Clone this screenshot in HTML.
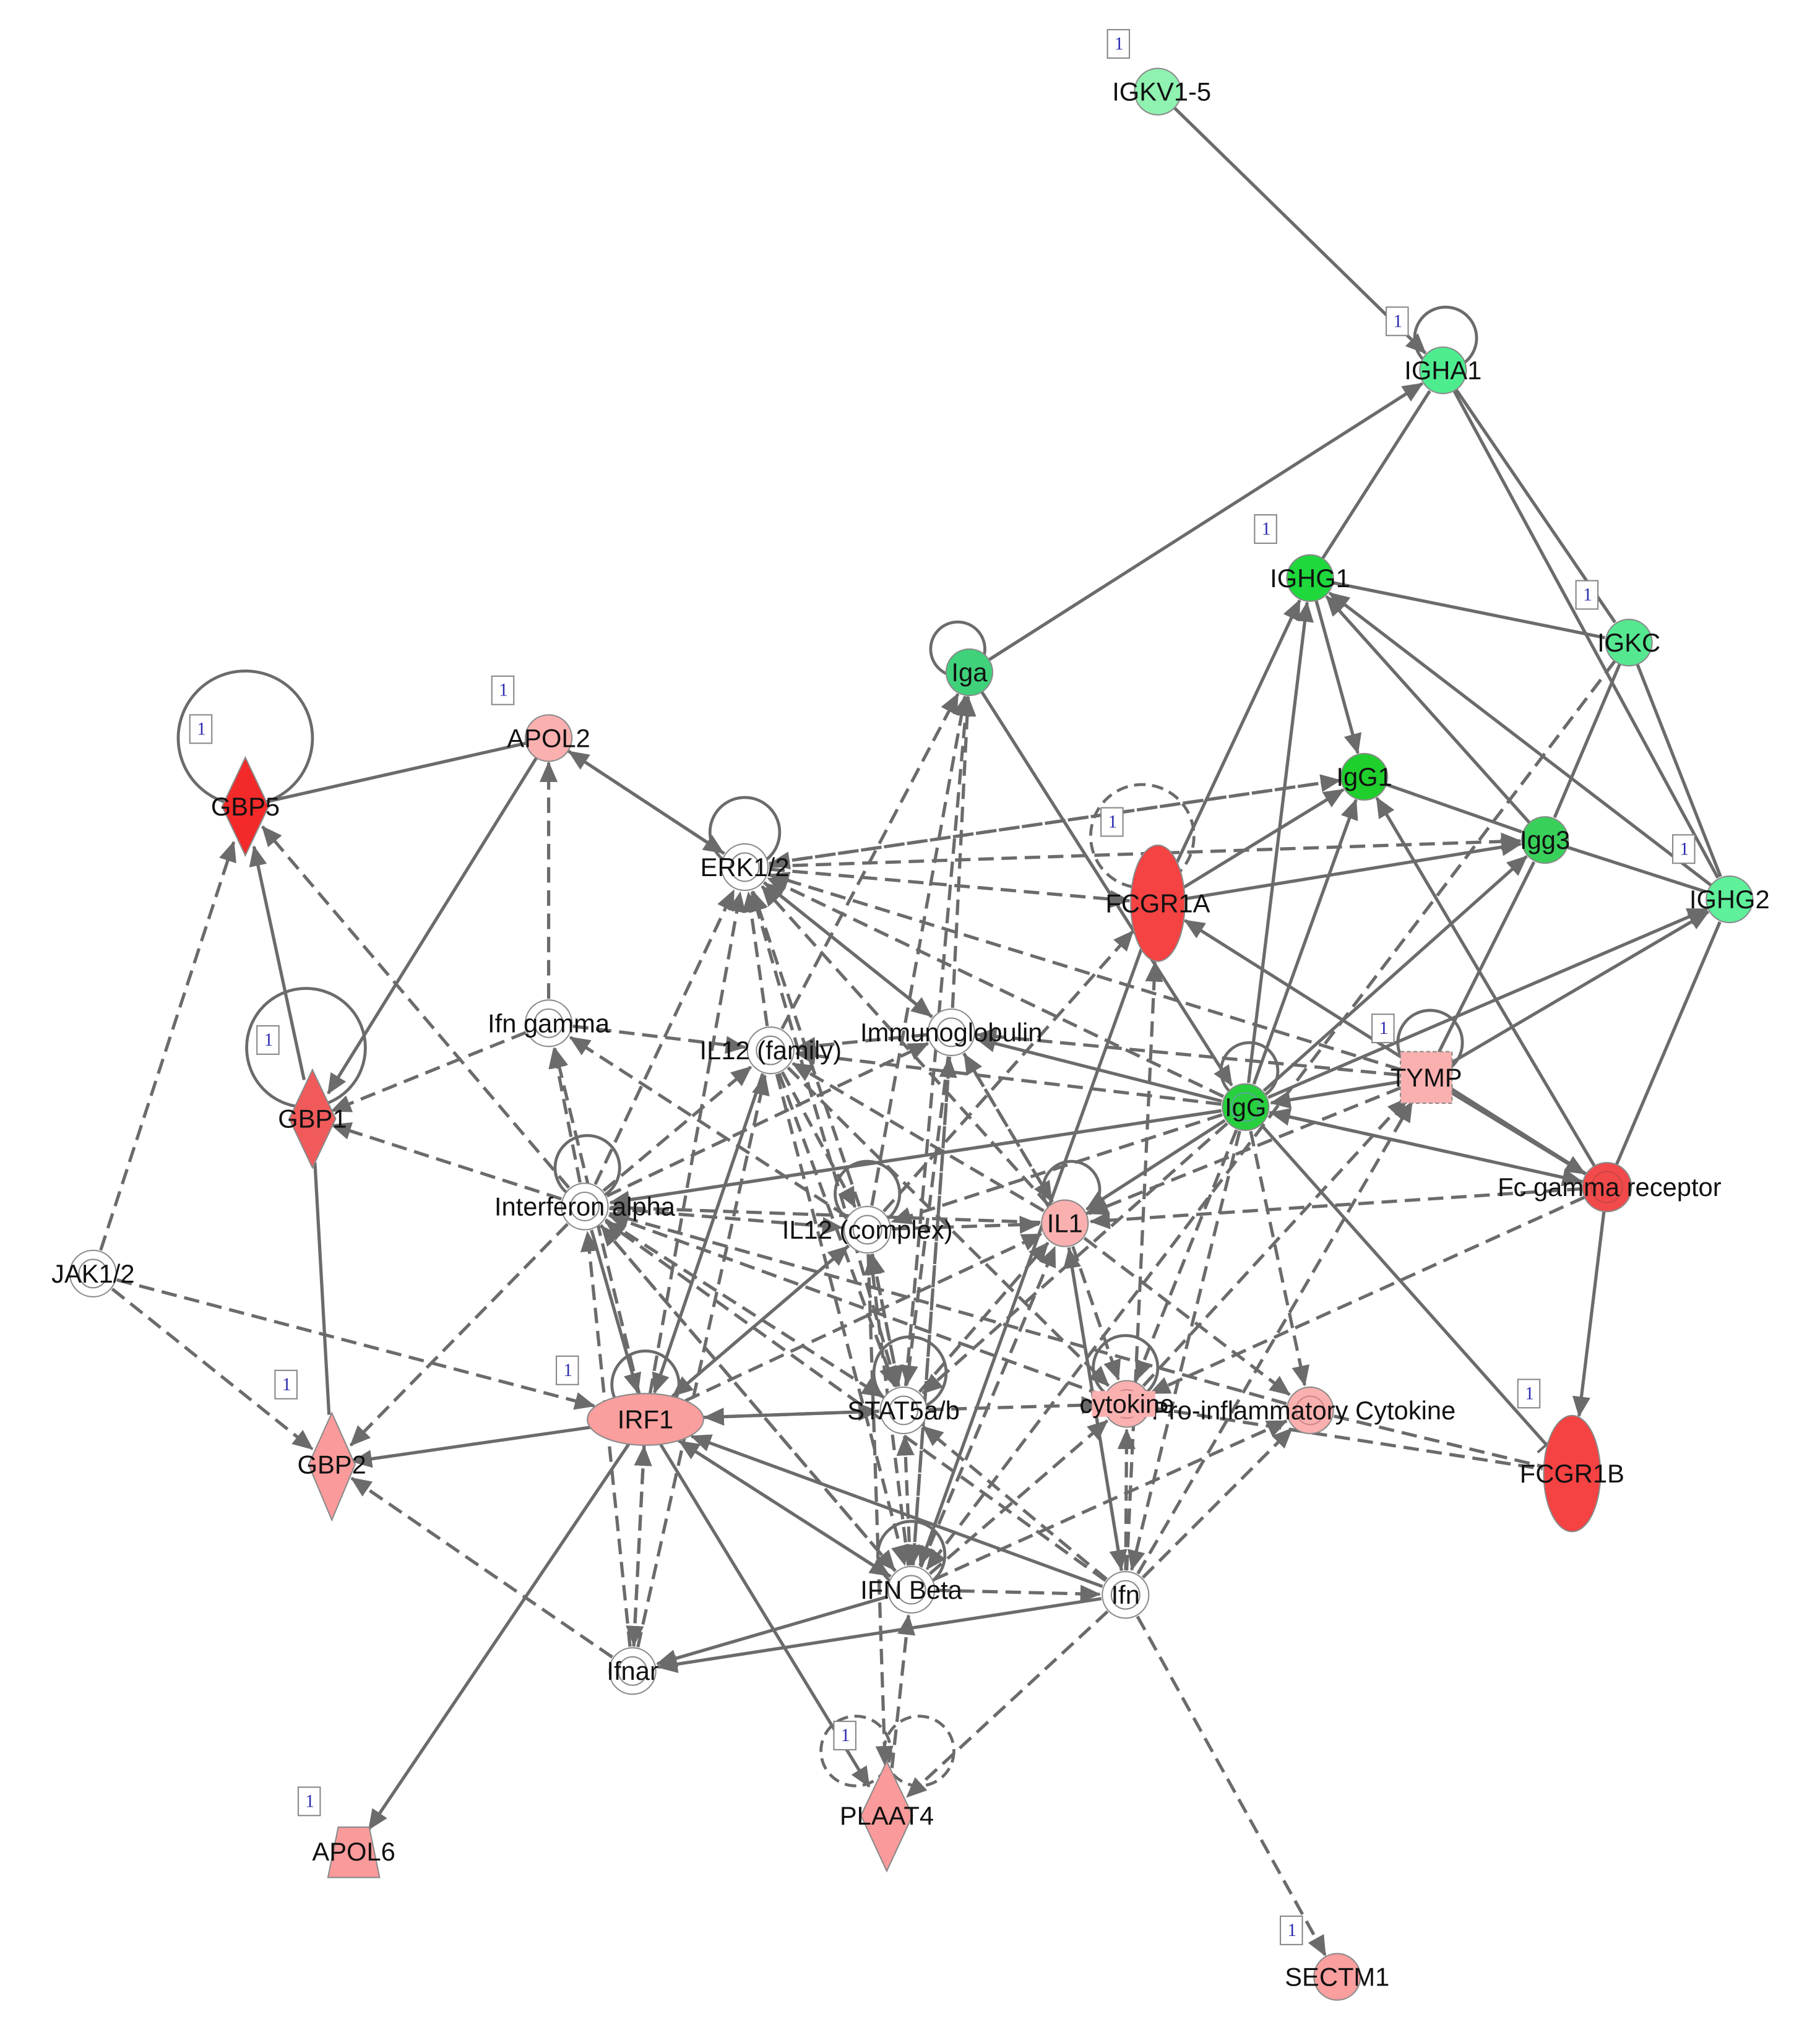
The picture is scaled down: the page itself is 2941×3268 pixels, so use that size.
<!DOCTYPE html>
<html><head><meta charset="utf-8"><style>
html,body{margin:0;padding:0;background:#fff;}
svg{display:block;}
text{font-family:"Liberation Sans",Arial,sans-serif;}
.lb{font-size:20px;fill:#111;text-anchor:middle;dominant-baseline:central;}
.bd{font-family:"Liberation Serif",serif;font-size:14px;fill:#2a2ab0;text-anchor:middle;dominant-baseline:central;}
</style></head><body>
<svg id="s" width="2941" height="3268" viewBox="0 0 1410 1567" xmlns="http://www.w3.org/2000/svg">
<defs>
<marker id="ar" markerUnits="userSpaceOnUse" markerWidth="16" markerHeight="14" refX="15" refY="7" orient="auto"><path d="M0,0 L16,7 L0,14 Z" fill="#6b6b6b"/></marker>
<marker id="tb" markerUnits="userSpaceOnUse" markerWidth="4" markerHeight="18" refX="2" refY="9" orient="auto"><path d="M2,0 L2,18" stroke="#6b6b6b" stroke-width="2"/></marker>
</defs>
<g id="loops" fill="none" stroke="#6b6b6b" stroke-width="2.3"></g>
<g id="edges" fill="none" stroke="#6b6b6b" stroke-width="2.5"></g>
<g id="nodes" stroke="#8a8a8a" stroke-width="1">
<circle cx="897" cy="71" r="18" fill="#8ff2b0"/>
<circle cx="1118" cy="287" r="18" fill="#4ded8f"/>
<circle cx="1015" cy="448" r="18" fill="#1ed83c"/>
<circle cx="1262" cy="498" r="18" fill="#55e890"/>
<circle cx="751" cy="521" r="18" fill="#3fd27a"/>
<circle cx="1057" cy="602" r="18" fill="#1fcf2c"/>
<circle cx="1197" cy="651" r="18" fill="#39d05a"/>
<circle cx="1340" cy="697" r="18" fill="#5ef09a"/>
<circle cx="965" cy="858" r="18" fill="#28cf3e"/>
<circle cx="965" cy="858" r="11" fill="none" stroke="#5a9"/>
<ellipse cx="897" cy="700" rx="21" ry="45" fill="#f54242"/>
<ellipse cx="1218" cy="1142" rx="22" ry="45" fill="#f54242"/>
<circle cx="1245" cy="920" r="19" fill="#f24a4a"/>
<circle cx="1245" cy="920" r="12" fill="none" stroke="#c44"/>
<path d="M190,587 L208,625 L190,663 L172,625Z" fill="#f42a2a"/>
<path d="M242,829 L260,867 L242,905 L224,867Z" fill="#f05a5a"/>
<path d="M257,1095 L275,1135 L257,1178 L239,1135Z" fill="#fb9a9a"/>
<path d="M687,1365 L707,1407 L687,1450 L667,1407Z" fill="#fb9a9a"/>
<path d="M262,1416 L286,1416 L294,1455 L254,1455Z" fill="#fb9a9a"/>
<circle cx="425" cy="572" r="18" fill="#fbb0b0"/>
<ellipse cx="500" cy="1100" rx="45" ry="20" fill="#fa9e9e"/>
<rect x="1085" y="815" width="40" height="40" fill="#fbb0b0" stroke-dasharray="3,2"/>
<circle cx="825" cy="948" r="18" fill="#fbb0b0"/>
<circle cx="873" cy="1088" r="18" fill="#fbb0b0"/><circle cx="873" cy="1088" r="11" fill="none" stroke="#c88"/>
<circle cx="1015" cy="1093" r="18" fill="#fbb0b0"/><circle cx="1015" cy="1093" r="11" fill="none" stroke="#c88"/>
<circle cx="1036" cy="1532" r="18" fill="#fa9e9e"/>
<g fill="#fff">
<circle cx="577" cy="672" r="18"/><circle cx="577" cy="672" r="11"/>
<circle cx="425" cy="793" r="18"/><circle cx="425" cy="793" r="11"/>
<circle cx="597" cy="814" r="18"/><circle cx="597" cy="814" r="11"/>
<circle cx="737" cy="800" r="18"/><circle cx="737" cy="800" r="11"/>
<circle cx="453" cy="935" r="18"/><circle cx="453" cy="935" r="11"/>
<circle cx="672" cy="953" r="18"/><circle cx="672" cy="953" r="11"/>
<circle cx="72" cy="987" r="18"/><circle cx="72" cy="987" r="11"/>
<circle cx="700" cy="1093" r="18"/><circle cx="700" cy="1093" r="11"/>
<circle cx="706" cy="1232" r="18"/><circle cx="706" cy="1232" r="11"/>
<circle cx="872" cy="1236" r="18"/><circle cx="872" cy="1236" r="11"/>
<circle cx="490" cy="1295" r="18"/><circle cx="490" cy="1295" r="11"/>
</g>
</g>
<g id="labels">
<text class="lb" x="900" y="71">IGKV1-5</text>
<text class="lb" x="1118" y="287">IGHA1</text>
<text class="lb" x="1015" y="448">IGHG1</text>
<text class="lb" x="1262" y="498">IGKC</text>
<text class="lb" x="751" y="521">Iga</text>
<text class="lb" x="1057" y="602">IgG1</text>
<text class="lb" x="1197" y="651">Igg3</text>
<text class="lb" x="1340" y="697">IGHG2</text>
<text class="lb" x="897" y="700">FCGR1A</text>
<text class="lb" x="425" y="572">APOL2</text>
<text class="lb" x="190" y="625">GBP5</text>
<text class="lb" x="577" y="672">ERK1/2</text>
<text class="lb" x="425" y="793">Ifn gamma</text>
<text class="lb" x="597" y="814">IL12 (family)</text>
<text class="lb" x="737" y="800">Immunoglobulin</text>
<text class="lb" x="965" y="858">IgG</text>
<text class="lb" x="1105" y="835">TYMP</text>
<text class="lb" x="242" y="867">GBP1</text>
<text class="lb" x="453" y="935">Interferon alpha</text>
<text class="lb" x="672" y="953">IL12 (complex)</text>
<text class="lb" x="825" y="948">IL1</text>
<text class="lb" x="1247" y="920">Fc gamma receptor</text>
<text class="lb" x="72" y="987">JAK1/2</text>
<text class="lb" x="500" y="1100">IRF1</text>
<text class="lb" x="700" y="1093">STAT5a/b</text>
<text class="lb" x="1010" y="1093">Pro-inflammatory Cytokine</text>
<rect x="846" y="1078" width="49" height="20" fill="#fbb0b0"/>
<text class="lb" x="873" y="1088">cytokine</text>
<text class="lb" x="1218" y="1142">FCGR1B</text>
<text class="lb" x="257" y="1135">GBP2</text>
<text class="lb" x="706" y="1232">IFN Beta</text>
<text class="lb" x="872" y="1236">Ifn</text>
<text class="lb" x="490" y="1295">Ifnar</text>
<text class="lb" x="687" y="1407">PLAAT4</text>
<text class="lb" x="274" y="1435">APOL6</text>
<text class="lb" x="1036" y="1532">SECTM1</text>
</g>
<g id="badges" fill="#fff" stroke="#888" stroke-width="1">
<rect x="858" y="23" width="17" height="22"/><rect x="1074" y="238" width="17" height="22"/>
<rect x="972" y="399" width="17" height="22"/><rect x="1221" y="450" width="17" height="22"/>
<rect x="381" y="524" width="17" height="22"/><rect x="147" y="554" width="17" height="22"/>
<rect x="853" y="626" width="17" height="22"/><rect x="1296" y="647" width="17" height="22"/>
<rect x="199" y="795" width="17" height="22"/><rect x="1063" y="786" width="17" height="22"/>
<rect x="431" y="1051" width="17" height="22"/><rect x="213" y="1062" width="17" height="22"/>
<rect x="1176" y="1069" width="17" height="22"/><rect x="646" y="1334" width="17" height="22"/>
<rect x="231" y="1385" width="17" height="22"/><rect x="992" y="1485" width="17" height="22"/>
</g>
<g>
<text class="bd" x="867" y="34">1</text><text class="bd" x="1083" y="249">1</text>
<text class="bd" x="981" y="410">1</text><text class="bd" x="1230" y="461">1</text>
<text class="bd" x="390" y="535">1</text><text class="bd" x="156" y="565">1</text>
<text class="bd" x="862" y="637">1</text><text class="bd" x="1305" y="658">1</text>
<text class="bd" x="208" y="806">1</text><text class="bd" x="1072" y="797">1</text>
<text class="bd" x="440" y="1062">1</text><text class="bd" x="222" y="1073">1</text>
<text class="bd" x="1185" y="1080">1</text><text class="bd" x="655" y="1345">1</text>
<text class="bd" x="240" y="1396">1</text><text class="bd" x="1001" y="1496">1</text>
</g>
</svg>
<script>
var N={kv:[897,71,18,18],ha:[1118,287,18,18],g1:[1015,448,18,18],kc:[1262,498,18,18],iga:[751,521,18,18],igg1:[1057,602,18,18],igg3:[1197,651,18,18],g2:[1340,697,18,18],f1a:[897,700,21,45],apol2:[425,572,18,18],gbp5:[190,625,14,34],erk:[577,672,19,19],ifng:[425,793,19,19],il12f:[597,814,19,19],ig:[737,800,19,19],igg:[965,858,19,19],tymp:[1105,835,21,21],gbp1:[242,867,14,34],ifna:[453,935,19,19],il12c:[672,953,19,19],il1:[825,948,19,19],fcg:[1245,920,19,19],jak:[72,987,19,19],irf1:[500,1100,45,20],stat:[700,1093,19,19],cyt:[873,1088,19,19],pic:[1015,1093,19,19],f1b:[1218,1142,22,45],gbp2:[257,1135,15,38],ifnb:[706,1232,19,19],ifn:[872,1236,19,19],ifnar:[490,1295,19,19],plaat:[687,1407,16,38],apol6:[274,1435,20,20],sectm:[1036,1532,18,18]};
var S="kv>ha iga>ha g1-ha ha-kc ha-g2 g1-kc g1>igg1 g2>g1 igg>g1 f1a>g1 igg3>g1 igg>igg1 igg>igg3 igg>g2 igg1-igg3 igg3-g2 kc-g2 kc-igg3 f1a>igg3 f1a>igg1 tymp>g2 tymp-igg3 fcg>igg1 fcg-g2 fcg>f1b fcg>f1a igg>fcg tymp>fcg igg|f1b igg>ifna igg>il1 iga>igg apol2-gbp5 apol2>gbp1 gbp1>gbp5 gbp1-gbp2 irf1>gbp2 irf1>apol6 irf1>plaat irf1>ifnb ifn>irf1 stat>irf1 ifnb>ifnar ifn>ifnar il12f>irf1 ifna>irf1 il12c>irf1 igg>ig f1a>ifnb tymp>igg";
var D="jak>gbp5 jak>gbp2 jak>irf1 erk>apol2 apol2>erk ifna>gbp5 ifng>gbp1 ifna>gbp1 ifna>gbp2 ifnar>gbp2 ifng>apol2 erk>f1a erk>igg1 erk>igg3 ig>iga il12f>iga il12c>iga stat>iga ifna>erk il12f>erk ig>erk il12c>erk irf1>erk stat>erk il1>erk ifng>il12f ig>il12f igg>il12f igg>erk tymp>ig ifna>ifng irf1>ifng il12c>ifng ifna>il12c il1>ifna igg>ifna fcg>il1 ifnar>ifna irf1>ifnar ifnar>irf1 il1>ig il12c>f1a ifn>f1a igg>cyt igg>pic igg>ifn cyt>tymp ifn>tymp fcg>cyt pic-f1b cyt-f1b il1>pic il1>cyt il1>ifn ifnb>il1 ifnb>cyt ifnb>pic ifn>cyt ifn>pic ifn>il1 ifn>sectm ifn>plaat plaat>ifnb ifnb>ifn stat>il12c ifnb>stat ifn>stat il12c>stat ifna>stat il12f>ifnb ig>ifnb ig>stat ifnb>il12c irf1>il12c il12f>cyt stat>cyt ifnb>ifna ifna>il12f il12f>stat il12c>il1 ifna>ig stat>il1 ig>il1 igg>stat tymp>erk igg1>erk kc>ifnb igg>il12c erk>ig il12f>il12c ifnb>ig il1>il12f fcg>igg ifn>ifna cyt>ifna irf1>il1 ifnb>irf1 ifna>ifnb il12c>plaat irf1>stat ifnar>il12f pic>ifna tymp>il1";
var NS="http://www.w3.org/2000/svg",E=document.getElementById('edges');
function bnd(n,dx,dy){var a=n[2],b=n[3],L=Math.hypot(dx,dy)||1,ux=dx/L,uy=dy/L;return a*b/Math.sqrt(b*b*ux*ux+a*a*uy*uy);}
function add(spec,dash){spec.split(' ').forEach(function(s){var m=s.match(/^(\w+)([>\-|])(\w+)$/);if(!m)return;var A=N[m[1]],B=N[m[3]];var dx=B[0]-A[0],dy=B[1]-A[1],L=Math.hypot(dx,dy),ux=dx/L,uy=dy/L;var ra=bnd(A,dx,dy),rb=bnd(B,dx,dy)+1;var p=document.createElementNS(NS,'line');p.setAttribute('x1',A[0]+ux*ra);p.setAttribute('y1',A[1]+uy*ra);p.setAttribute('x2',B[0]-ux*rb);p.setAttribute('y2',B[1]-uy*rb);if(dash)p.setAttribute('stroke-dasharray','12,6');if(m[2]=='>')p.setAttribute('marker-end','url(#ar)');if(m[2]=='|')p.setAttribute('marker-end','url(#tb)');E.appendChild(p);});}
add(S,false);add(D,true);
var LP=[[1120,262,24,0],[742,503,21,0],[885,648,40,1],[190,572,52,0],[577,645,27,0],[968,830,22,0],[1108,808,25,0],[237,812,46,0],[455,905,25,0],[672,925,25,0],[830,922,22,0],[500,1073,26,0],[705,1064,28,0],[872,1060,25,0],[706,1205,26,0],[663,1357,27,1],[712,1357,27,1]];
var G=document.getElementById('loops');LP.forEach(function(l){var c=document.createElementNS(NS,'circle');c.setAttribute('cx',l[0]);c.setAttribute('cy',l[1]);c.setAttribute('r',l[2]);if(l[3])c.setAttribute('stroke-dasharray','9,5');G.appendChild(c);});
</script>
</body></html>
